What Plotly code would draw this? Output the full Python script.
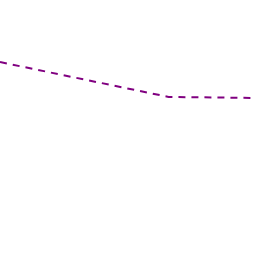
import plotly.graph_objects as go

x_vals = [0, 2, 3]
y_vals = [6.06, 4.97, 4.94]

fig = go.Figure(go.Scatter(
    x=x_vals, y=y_vals, mode="lines",
    line=dict(color="#800080", width=2, dash="7px,6px"),
    hoverinfo="skip",
))
fig.update_layout(
    width=256, height=256,
    margin=dict(l=0, r=0, t=0, b=0),
    paper_bgcolor="white", plot_bgcolor="white",
    showlegend=False,
    xaxis=dict(visible=False, range=[0, 3 * 256 / 253]),
    yaxis=dict(visible=False, range=[0, 8]),
)
fig.write_html("out.html", config={"displayModeBar": False})
